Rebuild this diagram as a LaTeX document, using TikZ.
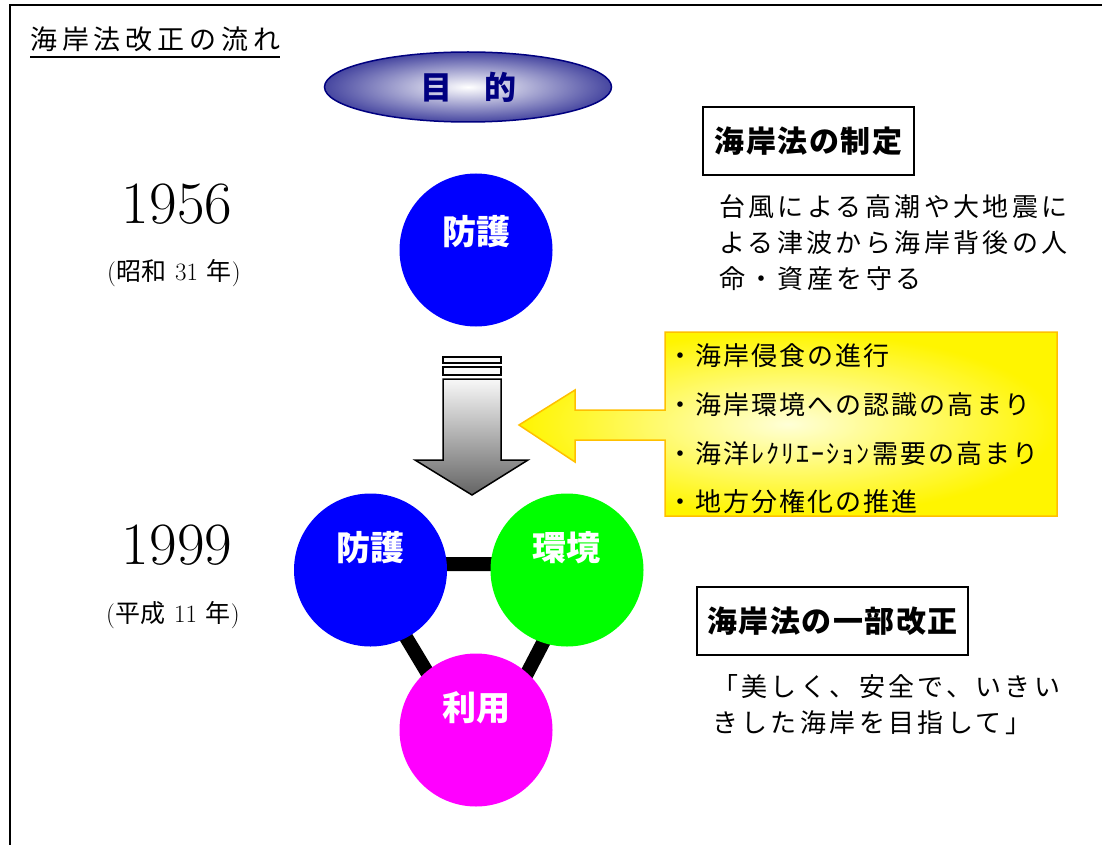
\documentclass[tikz,border=0pt]{standalone}
\usepackage{fontspec}
\newfontfamily\jp{Noto Sans CJK JP}
\usetikzlibrary{shapes.geometric,backgrounds}
\definecolor{navyc}{RGB}{0,0,128}
\definecolor{ellout}{RGB}{70,70,160}
\definecolor{yborder}{RGB}{255,192,0}
\definecolor{ylight}{RGB}{255,255,215}
\definecolor{ydeep}{RGB}{255,245,0}
\definecolor{darkgr}{RGB}{100,100,100}
\definecolor{lightgr}{RGB}{248,248,248}
\tikzset{
  bigcirc/.style={circle, minimum size=153pt, inner sep=0pt},
  ctext/.style={inner sep=0pt, text=white, font={\jp\bfseries\fontsize{34}{34}\selectfont}},
  titlebox/.style={draw, line width=1.2pt, minimum height=68pt, inner sep=0pt,
    font={\jp\bfseries\fontsize{30}{30}\selectfont\addfontfeature{LetterSpace=5}}},
  desc/.style={inner sep=0pt, align=left, anchor=west,
    font={\jp\fontsize{26}{36}\selectfont\addfontfeature{LetterSpace=13}}},
  bullets/.style={inner sep=0pt, align=left, anchor=west,
    font={\jp\fontsize{26}{48.7}\selectfont\addfontfeature{LetterSpace=8}}},
  year/.style={inner sep=0pt, font={\fontsize{60}{60}\selectfont}},
  era/.style={inner sep=0pt, font={\fontsize{25}{25}\selectfont}},
  bar/.style={line width=14pt, line join=round}
}
\newcommand{\gapsp}{\hspace{9pt}}
\begin{document}
\begin{tikzpicture}[x=1pt,y=-1pt]
\useasboundingbox (0,0) rectangle (1102,845);
% frame
\draw[line width=2pt] (10,845) -- (10,5) -- (1102,5);
% title
\node[inner sep=0pt, anchor=base west,
  font={\jp\fontsize{27}{27}\selectfont\addfontfeature{LetterSpace=18}}] (title) at (30,50) {海岸法改正の流れ};
\draw[line width=1.5pt] ([yshift=-7pt]title.base west) -- ([yshift=-7pt]title.base east);
% goal ellipse
\node[ellipse, draw=navyc, line width=1.5pt, inner color=white, outer color=ellout,
  minimum width=287pt, minimum height=70pt, inner sep=0pt, text=navyc,
  font={\jp\bfseries\fontsize{32}{32}\selectfont}] (goal) at (468,87) {目　的};
% years
\node[year] (y1) at (177,204) {1956};
\node[era] (e1) at (174,273) {({\jp 昭和}\gapsp 31\gapsp{\jp 年})};
\node[year] (y2) at (177,545) {1999};
\node[era] (e2) at (173,615) {({\jp 平成}\gapsp 11\gapsp{\jp 年})};
% 1956 circle
\node[bigcirc, fill=blue] (c0) at (476,250) {};
\node[ctext] (c0t) at (476,232) {防護};
% right texts
\node[titlebox, minimum width=211pt] (box1) at (808.5,141) {海岸法の制定};
\node[desc] (d1) at (719,243) {台風による高潮や大地震に\\よる津波から海岸背後の人\\命・資産を守る};
\node[titlebox, minimum width=271pt] (box2) at (832.5,621) {海岸法の一部改正};
\node[desc] (d2) at (712,705) {「美しく、安全で、いきい\\きした海岸を目指して」};
% gray down arrow
\draw[line width=1.2pt, fill=lightgr] (443,357) rectangle (501,363);
\draw[line width=1.2pt, fill=lightgr] (443,367) rectangle (501,375);
\shade[draw, line width=1.5pt, line join=miter, top color=lightgr, bottom color=darkgr]
  (443,379) -- (501,379) -- (501,460) -- (528,460) -- (472,495) -- (415,460) -- (443,460) -- cycle;
% yellow callout arrow
\shade[draw=yborder, line width=1.5pt, inner color=ylight, outer color=ydeep]
  (665,332) -- (1057,332) -- (1057,516) -- (665,516) -- (665,440) -- (575,440) -- (575,462)
  -- (519,425) -- (575,390) -- (575,410) -- (665,410) -- cycle;
\node[bullets] (bl) at (667,429) {・海岸侵食の進行\\・海岸環境への認識の高まり\\・海洋ﾚｸﾘｴｰｼｮﾝ需要の高まり\\・地方分権化の推進};
% 1999 circles
\node[bigcirc, fill=blue] (c1) at (370.5,570) {};
\node[bigcirc, fill={rgb,255:red,0;green,255;blue,0}] (c2) at (567,570) {};
\node[bigcirc, fill={rgb,255:red,255;green,0;blue,255}] (c3) at (476,730) {};
\node[ctext] (c1t) at (370.5,548) {防護};
\node[ctext] (c2t) at (566,548) {環境};
\node[ctext] (c3t) at (476,708) {利用};
\begin{scope}[on background layer]
  \coordinate (t1) at ([shift={(-8.5pt,6pt)}]c1.center);
  \coordinate (t2) at ([shift={(17pt,6pt)}]c2.center);
  \coordinate (t3) at ([shift={(5pt,-32pt)}]c3.center);
  \draw[bar] (t1) -- (t2) -- (t3) -- cycle;
\end{scope}
\end{tikzpicture}
\end{document}
